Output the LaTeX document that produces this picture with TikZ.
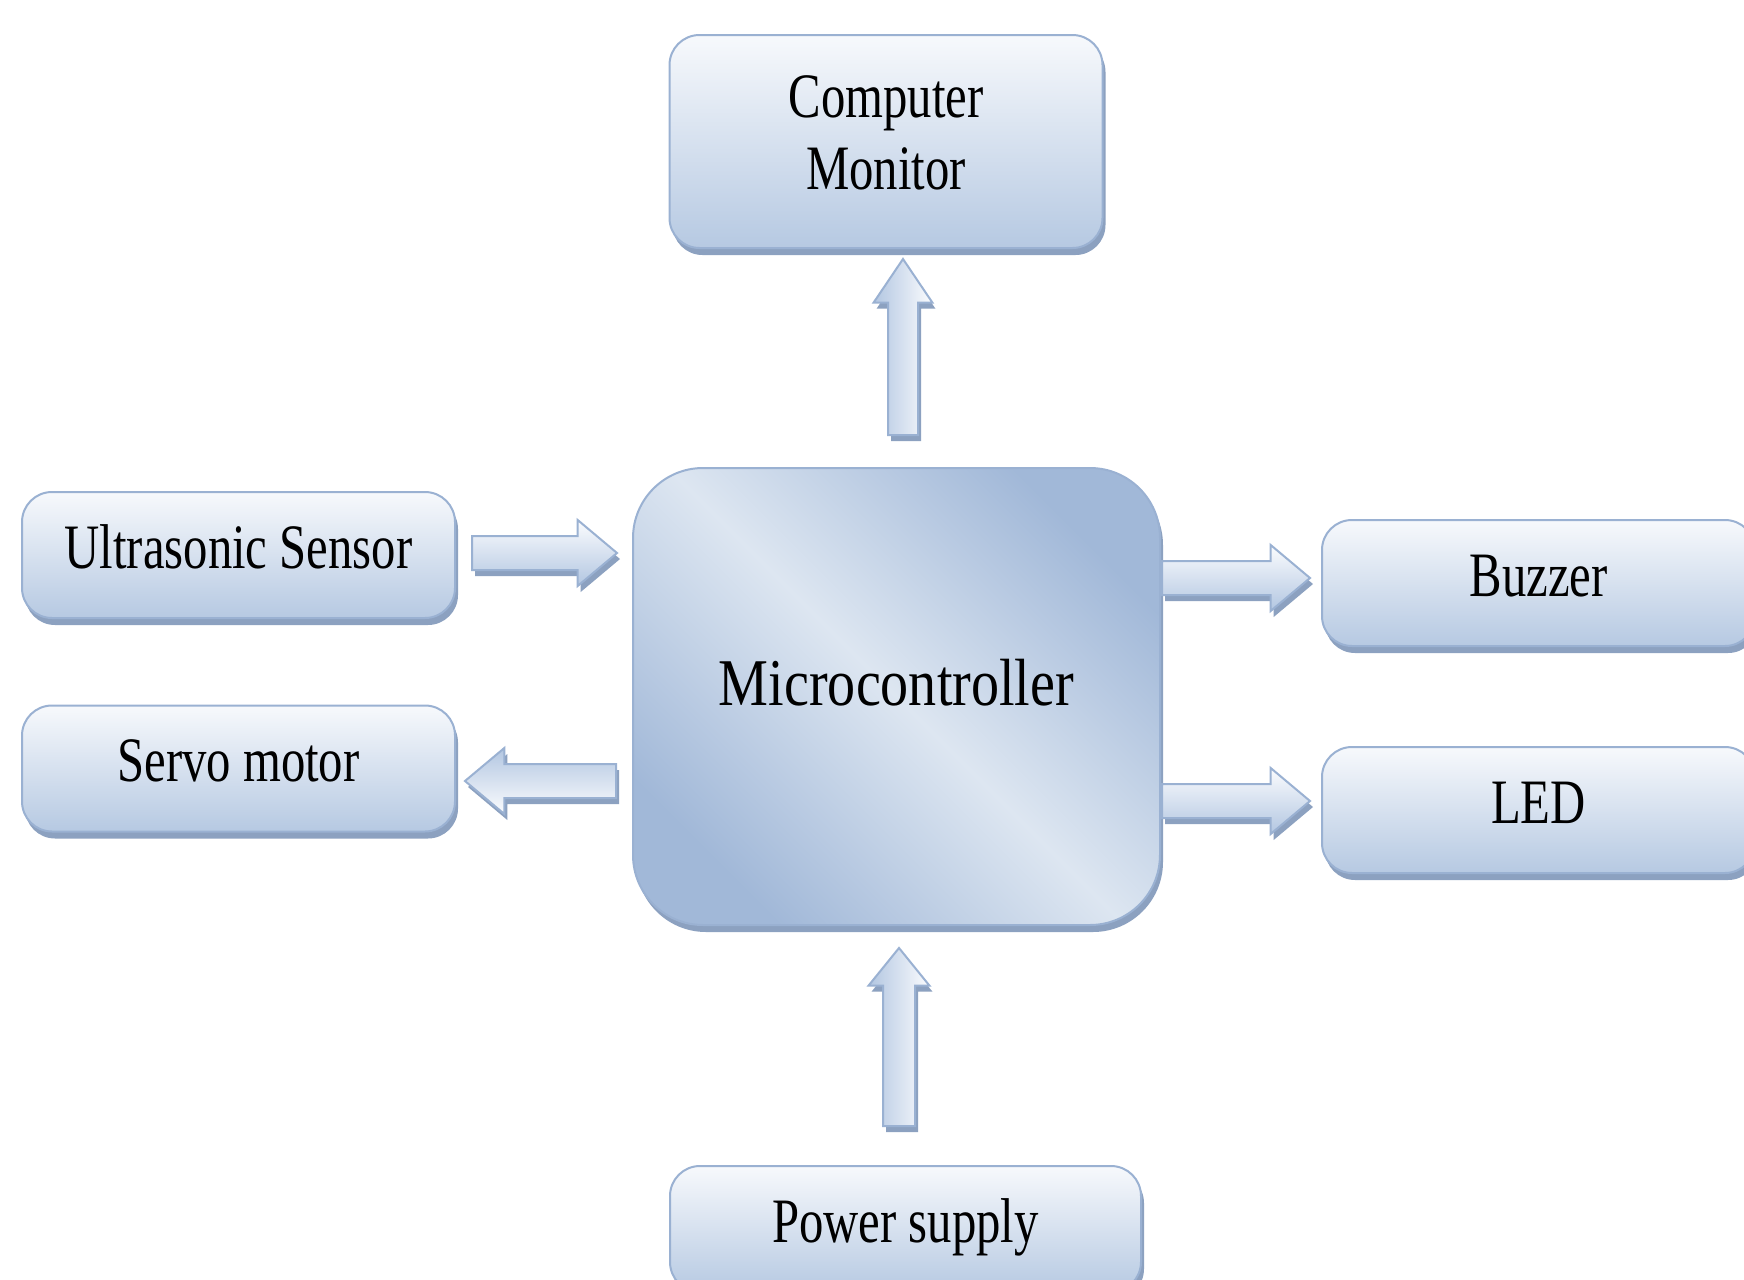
\documentclass[tikz,border=0pt]{standalone}
\usepackage{fontspec}
\setmainfont{Liberation Serif}[FakeStretch=0.77]
\newfontfamily\microfont{Liberation Serif}[FakeStretch=0.84]
\usetikzlibrary{positioning,calc,shapes.arrows,shadows}

\definecolor{boxtop}{HTML}{F7F9FC}
\definecolor{boxbot}{HTML}{B6C9E2}
\definecolor{boxline}{HTML}{9AB1D2}
\definecolor{shadowcol}{HTML}{8CA1C0}
\definecolor{microdark}{HTML}{A1B8D8}
\definecolor{microlight}{HTML}{DDE6F1}
\definecolor{arrowtop}{HTML}{FBFCFE}
\definecolor{arrowbot}{HTML}{B2C6E1}

\tikzset{
  blockbox/.style={rectangle, rounded corners=3mm, draw=boxline, line width=0.2mm,
    top color=boxtop, bottom color=boxbot, minimum width=43.3mm, minimum height=12.6mm,
    font=\fontsize{18pt}{20.7pt}\selectfont, text height=4.6mm, text depth=2.0mm,
    drop shadow={shadow xshift=0.3mm, shadow yshift=-0.7mm, fill=shadowcol, opacity=1}},
  microbox/.style={rectangle, rounded corners=7mm, draw=boxline, line width=0.2mm,
    top color=microdark, bottom color=microdark, middle color=microlight,
    shading angle=-45, minimum width=52.7mm, minimum height=45.7mm,
    font=\microfont\fontsize{19pt}{22pt}\selectfont, text height=4.7mm, text depth=2.96mm,
    drop shadow={shadow xshift=0.3mm, shadow yshift=-0.7mm, fill=shadowcol, opacity=1}},
  barrow/.style={single arrow, draw=boxline, line width=0.2mm, inner xsep=0pt,
    inner ysep=1.6mm, single arrow head extend=1.6mm, single arrow tip angle=80,
    drop shadow={shadow xshift=0.3mm, shadow yshift=-0.6mm, fill=shadowcol, opacity=1}},
}

% block arrow between two named points
\newcommand{\blockarrow}[3][]{%
  \path let \p1=(#2), \p2=(#3), \n1={veclen(\x2-\x1,\y2-\y1)},
    \n2={atan2(\y2-\y1,\x2-\x1)} in
    node[barrow, top color=arrowtop, bottom color=arrowbot, shading angle={-\n2},
      minimum height=\n1, rotate=\n2, anchor=tail, #1] at (#2) {};}

\begin{document}
\begin{tikzpicture}[x=0.1mm, y=-0.1mm]
\clip (0,0) rectangle (1744,1280);
\fill[white] (0,0) rectangle (1744,1280);

\node[microbox] (micro) at (896.5,696.5) {Microcontroller};
\node[blockbox, align=center, minimum height=21.3mm, text height=, text depth=1.8mm]
  (mon) [above=21.8mm of micro, xshift=-1.05mm] {Computer\\Monitor};
\node[blockbox] (us) [left=17.6mm of micro, yshift=14.15mm] {Ultrasonic Sensor};
\node[blockbox] (servo) [left=17.6mm of micro, yshift=-7.2mm] {Servo motor};
\node[blockbox] (buz) [right=16mm of micro, yshift=11.35mm] {Buzzer};
\node[blockbox] (led) [right=16mm of micro, yshift=-11.35mm] {LED};
\node[blockbox, minimum width=47.1mm] (pow) [below=23.9mm of micro, xshift=0.9mm] {Power supply};

% connectors
\coordinate (monA) at ($(micro.north)+(6.5,-31)$);
\coordinate (monB) at ($(mon.south)+(17,11)$);
\coordinate (usA) at ($(us.east)+(15,-2)$);
\coordinate (usB) at ($(micro.west)+(-16,-143.5)$);
\coordinate (svA) at ($(micro.west)+(-15,84.5)$);
\coordinate (svB) at ($(servo.east)+(10,12.5)$);
\coordinate (bzA) at ($(micro.east)+(0,-118.5)$);
\coordinate (bzB) at ($(buz.west)+(-12,-5)$);
\coordinate (ldA) at ($(micro.east)+(0,104.5)$);
\coordinate (ldB) at ($(led.west)+(-12,-9)$);
\coordinate (pwA) at ($(pow.north)+(-6.5,-38)$);
\coordinate (pwB) at ($(micro.south)+(2.5,23)$);

\blockarrow[inner ysep=1.4mm, single arrow head extend=1.45mm, single arrow tip angle=68]{monA}{monB}
\blockarrow{usA}{usB}
\blockarrow{svA}{svB}
\blockarrow{bzA}{bzB}
\blockarrow{ldA}{ldB}
\blockarrow[inner ysep=1.5mm, single arrow head extend=1.45mm, single arrow tip angle=78]{pwA}{pwB}
\end{tikzpicture}
\end{document}
